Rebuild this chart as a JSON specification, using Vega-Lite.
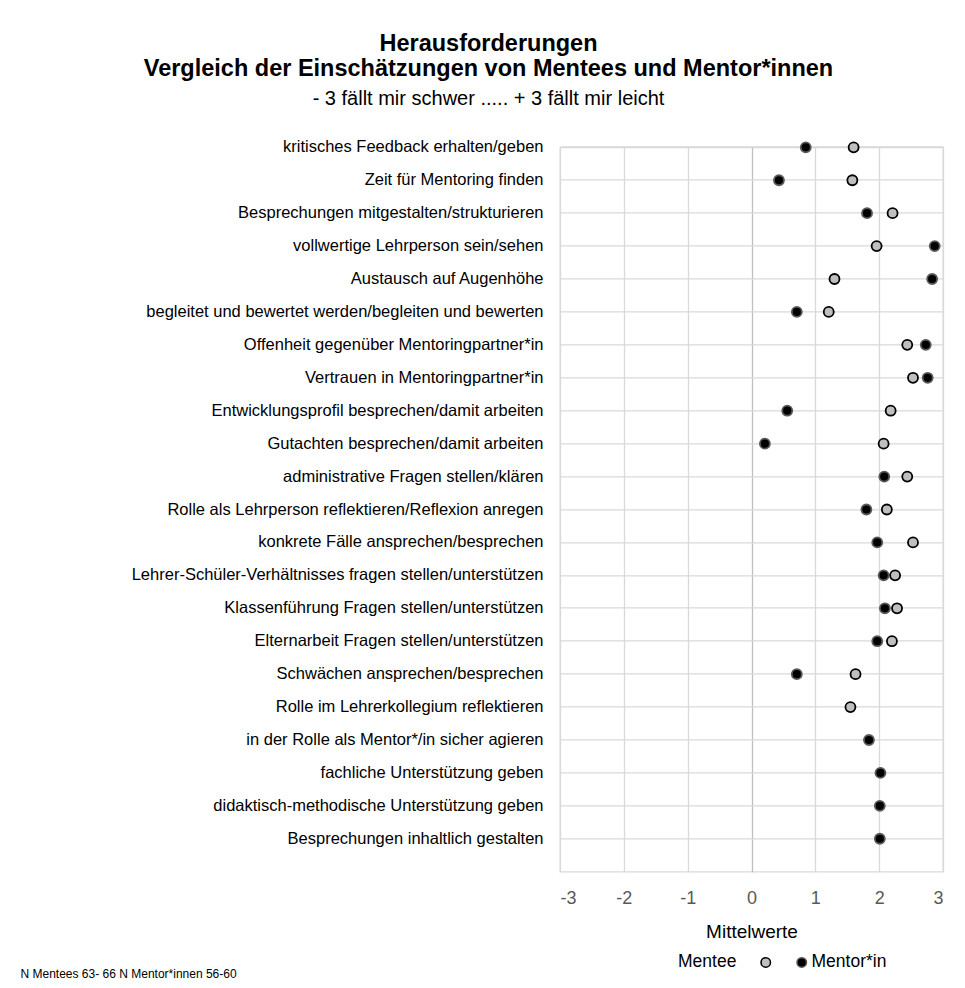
{
  "$schema": "https://vega.github.io/schema/vega-lite/v6.json",
  "width": 383,
  "height": 724.4,
  "autosize": {"type": "none"},
  "padding": {"left": 560, "top": 147.3, "right": 22, "bottom": 116.3},
  "background": "white",
  "title": {
    "text": ["Herausforderungen", "Vergleich der Einschätzungen von Mentees und Mentor*innen"],
    "subtitle": "- 3 fällt mir schwer ..... + 3 fällt mir leicht",
    "anchor": "middle",
    "frame": "group",
    "dx": -263,
    "offset": 30,
    "font": "Liberation Sans",
    "fontSize": 23.5,
    "fontWeight": "bold",
    "color": "#000000",
    "lineHeight": 25,
    "subtitleFont": "Liberation Sans",
    "subtitleFontSize": 20,
    "subtitleColor": "#000000",
    "subtitlePadding": 8
  },
  "config": {
    "view": {"stroke": "#d9d9d9", "strokeWidth": 1.3},
    "font": "Liberation Sans"
  },
  "data": {
    "values": [
      {"item": "kritisches Feedback erhalten/geben", "gruppe": "Mentor*in", "wert": 0.85},
      {"item": "Zeit für Mentoring finden", "gruppe": "Mentor*in", "wert": 0.43},
      {"item": "Besprechungen mitgestalten/strukturieren", "gruppe": "Mentor*in", "wert": 1.81},
      {"item": "vollwertige Lehrperson sein/sehen", "gruppe": "Mentor*in", "wert": 2.87},
      {"item": "Austausch auf Augenhöhe ", "gruppe": "Mentor*in", "wert": 2.83},
      {"item": "begleitet und bewertet werden/begleiten und bewerten", "gruppe": "Mentor*in", "wert": 0.71},
      {"item": "Offenheit gegenüber Mentoringpartner*in", "gruppe": "Mentor*in", "wert": 2.73},
      {"item": "Vertrauen in Mentoringpartner*in", "gruppe": "Mentor*in", "wert": 2.76},
      {"item": "Entwicklungsprofil besprechen/damit arbeiten", "gruppe": "Mentor*in", "wert": 0.56},
      {"item": "Gutachten besprechen/damit arbeiten", "gruppe": "Mentor*in", "wert": 0.21},
      {"item": "administrative Fragen stellen/klären", "gruppe": "Mentor*in", "wert": 2.08},
      {"item": "Rolle als Lehrperson reflektieren/Reflexion anregen", "gruppe": "Mentor*in", "wert": 1.8},
      {"item": "konkrete Fälle ansprechen/besprechen", "gruppe": "Mentor*in", "wert": 1.97},
      {"item": "Lehrer-Schüler-Verhältnisses fragen stellen/unterstützen", "gruppe": "Mentor*in", "wert": 2.07},
      {"item": "Klassenführung Fragen stellen/unterstützen", "gruppe": "Mentor*in", "wert": 2.09},
      {"item": "Elternarbeit Fragen stellen/unterstützen", "gruppe": "Mentor*in", "wert": 1.97},
      {"item": "Schwächen ansprechen/besprechen", "gruppe": "Mentor*in", "wert": 0.71},
      {"item": "in der Rolle als Mentor*/in sicher agieren", "gruppe": "Mentor*in", "wert": 1.84},
      {"item": "fachliche Unterstützung geben", "gruppe": "Mentor*in", "wert": 2.02},
      {"item": "didaktisch-methodische Unterstützung geben", "gruppe": "Mentor*in", "wert": 2.01},
      {"item": "Besprechungen inhaltlich gestalten", "gruppe": "Mentor*in", "wert": 2.01},
      {"item": "kritisches Feedback erhalten/geben", "gruppe": "Mentee", "wert": 1.6},
      {"item": "Zeit für Mentoring finden", "gruppe": "Mentee", "wert": 1.58},
      {"item": "Besprechungen mitgestalten/strukturieren", "gruppe": "Mentee", "wert": 2.21},
      {"item": "vollwertige Lehrperson sein/sehen", "gruppe": "Mentee", "wert": 1.96},
      {"item": "Austausch auf Augenhöhe ", "gruppe": "Mentee", "wert": 1.3},
      {"item": "begleitet und bewertet werden/begleiten und bewerten", "gruppe": "Mentee", "wert": 1.21},
      {"item": "Offenheit gegenüber Mentoringpartner*in", "gruppe": "Mentee", "wert": 2.44},
      {"item": "Vertrauen in Mentoringpartner*in", "gruppe": "Mentee", "wert": 2.53},
      {"item": "Entwicklungsprofil besprechen/damit arbeiten", "gruppe": "Mentee", "wert": 2.18},
      {"item": "Gutachten besprechen/damit arbeiten", "gruppe": "Mentee", "wert": 2.07},
      {"item": "administrative Fragen stellen/klären", "gruppe": "Mentee", "wert": 2.44},
      {"item": "Rolle als Lehrperson reflektieren/Reflexion anregen", "gruppe": "Mentee", "wert": 2.12},
      {"item": "konkrete Fälle ansprechen/besprechen", "gruppe": "Mentee", "wert": 2.53},
      {"item": "Lehrer-Schüler-Verhältnisses fragen stellen/unterstützen", "gruppe": "Mentee", "wert": 2.25},
      {"item": "Klassenführung Fragen stellen/unterstützen", "gruppe": "Mentee", "wert": 2.28},
      {"item": "Elternarbeit Fragen stellen/unterstützen", "gruppe": "Mentee", "wert": 2.2},
      {"item": "Schwächen ansprechen/besprechen", "gruppe": "Mentee", "wert": 1.63},
      {"item": "Rolle im Lehrerkollegium reflektieren", "gruppe": "Mentee", "wert": 1.55}
    ]
  },
  "mark": {"type": "point", "filled": true, "shape": "circle", "size": 100, "opacity": 1},
  "encoding": {
    "x": {
      "field": "wert",
      "type": "quantitative",
      "scale": {"domain": [-3, 3], "nice": false, "zero": false},
      "axis": {
        "values": [-3, -2, -1, 0, 1, 2, 3],
        "labelExpr": "'' + datum.value",
        "title": "Mittelwerte",
        "titleFont": "Liberation Sans",
        "titleFontSize": 19,
        "titleFontWeight": "normal",
        "titleColor": "#000000",
        "titlePadding": 15,
        "labelFont": "Liberation Sans",
        "labelFontSize": 18,
        "labelColor": "#595959",
        "labelPadding": 18,
        "domain": false,
        "ticks": false,
        "grid": true,
        "gridColor": {"condition": {"test": "datum.value === 0", "value": "#bfbfbf"}, "value": "#d9d9d9"},
        "gridWidth": 1.3
      }
    },
    "y": {
      "field": "item",
      "type": "nominal",
      "bandPosition": 0,
      "scale": {
        "type": "band",
        "paddingInner": 0,
        "paddingOuter": 0,
        "domain": [
          "kritisches Feedback erhalten/geben",
          "Zeit für Mentoring finden",
          "Besprechungen mitgestalten/strukturieren",
          "vollwertige Lehrperson sein/sehen",
          "Austausch auf Augenhöhe ",
          "begleitet und bewertet werden/begleiten und bewerten",
          "Offenheit gegenüber Mentoringpartner*in",
          "Vertrauen in Mentoringpartner*in",
          "Entwicklungsprofil besprechen/damit arbeiten",
          "Gutachten besprechen/damit arbeiten",
          "administrative Fragen stellen/klären",
          "Rolle als Lehrperson reflektieren/Reflexion anregen",
          "konkrete Fälle ansprechen/besprechen",
          "Lehrer-Schüler-Verhältnisses fragen stellen/unterstützen",
          "Klassenführung Fragen stellen/unterstützen",
          "Elternarbeit Fragen stellen/unterstützen",
          "Schwächen ansprechen/besprechen",
          "Rolle im Lehrerkollegium reflektieren",
          "in der Rolle als Mentor*/in sicher agieren",
          "fachliche Unterstützung geben",
          "didaktisch-methodische Unterstützung geben",
          "Besprechungen inhaltlich gestalten"
        ]
      },
      "axis": {
        "bandPosition": 0,
        "labelOffset": -16.46,
        "labelExpr": "datum.label === 'Austausch auf Augenhöhe ' ? 'Austausch auf Augenhöhe\u00a0\u00a0\u00a0' : datum.label",
        "title": "N Mentees 63- 66 N Mentor*innen 56-60",
        "titleAngle": 0,
        "titleX": -540,
        "titleY": 825.7,
        "titleAlign": "left",
        "titleBaseline": "middle",
        "titleFont": "Liberation Sans",
        "titleFontSize": 12,
        "titleFontWeight": "normal",
        "titleColor": "#000000",
        "labelFont": "Liberation Sans",
        "labelFontSize": 16.5,
        "labelColor": "#000000",
        "labelPadding": 17,
        "labelLimit": 500,
        "labelBaseline": "middle",
        "domain": false,
        "ticks": false,
        "grid": true,
        "gridColor": "#d9d9d9",
        "gridWidth": 1.3
      }
    },
    "fill": {
      "field": "gruppe",
      "type": "nominal",
      "scale": {"domain": ["Mentee", "Mentor*in"], "range": ["#bfbfbf", "#000000"]},
      "legend": {
        "orient": "none",
        "direction": "horizontal",
        "legendX": 118,
        "legendY": 806,
        "title": "Mentee",
        "titleOrient": "left",
        "titleFont": "Liberation Sans",
        "titleFontSize": 17.5,
        "titleFontWeight": "normal",
        "titleColor": "#000000",
        "titlePadding": 20,
        "titleBaseline": "middle",
        "labelExpr": "datum.label === 'Mentee' ? '' : datum.label",
        "labelFont": "Liberation Sans",
        "labelFontSize": 17.5,
        "labelColor": "#000000",
        "labelOffset": 1,
        "columnPadding": 17,
        "symbolType": "circle",
        "symbolSize": 90,
        "symbolStrokeWidth": 1.5
      }
    },
    "stroke": {
      "field": "gruppe",
      "type": "nominal",
      "scale": {"domain": ["Mentee", "Mentor*in"], "range": ["#000000", "#595959"]},
      "legend": {
        "orient": "none",
        "direction": "horizontal",
        "legendX": 118,
        "legendY": 806,
        "title": "Mentee",
        "titleOrient": "left",
        "titleFont": "Liberation Sans",
        "titleFontSize": 17.5,
        "titleFontWeight": "normal",
        "titleColor": "#000000",
        "titlePadding": 20,
        "titleBaseline": "middle",
        "labelExpr": "datum.label === 'Mentee' ? '' : datum.label",
        "labelFont": "Liberation Sans",
        "labelFontSize": 17.5,
        "labelColor": "#000000",
        "labelOffset": 1,
        "columnPadding": 17,
        "symbolType": "circle",
        "symbolSize": 90,
        "symbolStrokeWidth": 1.5
      }
    },
    "strokeWidth": {"value": 1.8}
  }
}
